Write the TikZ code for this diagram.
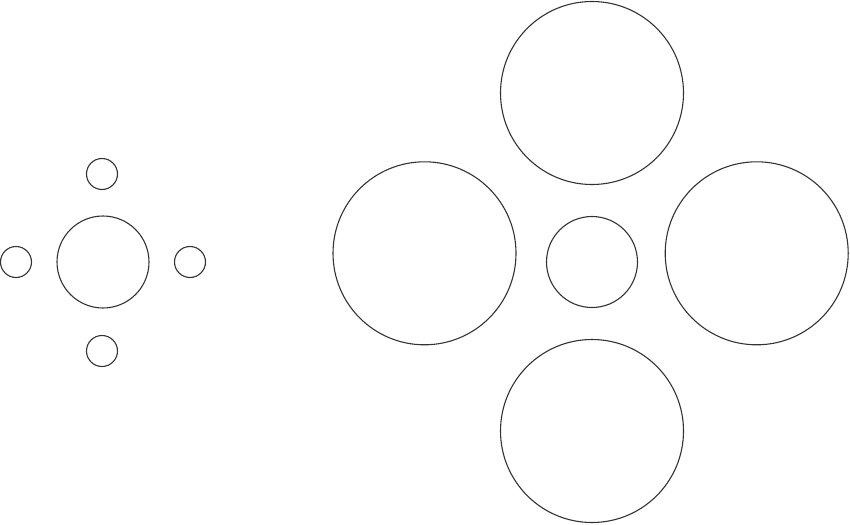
\documentclass[tikz,border=0pt]{standalone}
\begin{document}
\begin{tikzpicture}[x=1pt,y=-1pt,
  ring/.style={draw=black!80,line width=1.1pt,circle,inner sep=0pt,minimum size=#1}]
\useasboundingbox (0,0) rectangle (850,524);
% left group
\node[ring=92pt] (lc) at (103,262) {};
\node[ring=31pt] (lt) at (102,174) {};
\node[ring=31pt] (lb) at (102,351) {};
\node[ring=31pt] (ll) at (16,262) {};
\node[ring=31pt] (lr) at (190,262) {};
% right group
\node[ring=91pt] (rc) at (592,262) {};
\node[ring=183pt] (rt) at (592,93) {};
\node[ring=183pt] (rb) at (592,431) {};
\node[ring=183pt] (rl) at (424.5,253.3) {};
\node[ring=183pt] (rr) at (756.7,253.3) {};
\end{tikzpicture}
\end{document}
